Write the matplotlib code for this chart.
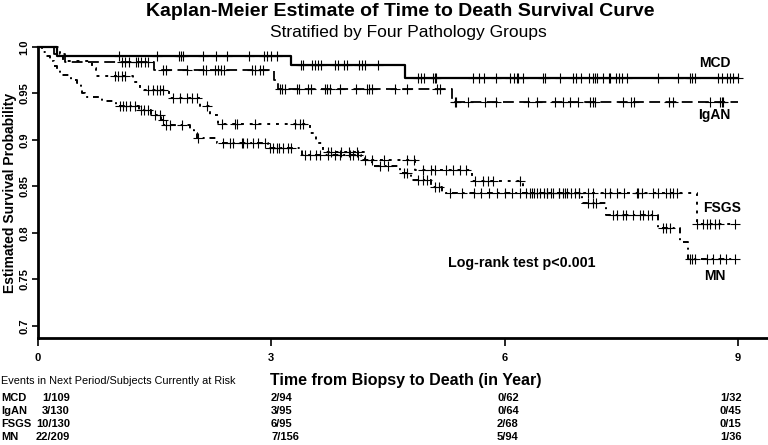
import numpy as np
import matplotlib.pyplot as plt

# Kaplan-Meier steps: event times (years) and survival after each event
mcd_t = [0.25, 3.25, 4.72]
mcd_s = [0.990, 0.981, 0.967]
mcd_cens = [1.04, 1.53, 1.81, 1.84, 1.86, 2.12, 2.29, 2.43, 2.71, 2.91, 2.94, 2.99, 3.07,
            3.38, 3.41, 3.52, 3.56, 3.60, 3.64, 3.82, 3.86, 3.93, 3.97, 4.13, 4.17, 4.21, 4.37,
            4.88, 4.92, 4.96, 5.08, 5.10, 5.12, 5.59, 5.67, 5.73, 5.89, 6.16, 6.07, 6.12, 6.17,
            6.23, 6.49, 6.52, 6.71, 6.88, 6.92, 6.98, 7.09, 7.13, 7.16, 7.19, 7.26, 7.34, 7.36,
            7.43, 7.47, 7.51, 7.57, 7.97, 8.23, 8.38, 8.41, 8.45, 8.74, 8.80, 8.86, 8.90, 8.94, 9.0]

igan_t = [0.20, 0.35, 1.49, 3.03, 3.08, 5.32]
igan_s = [0.992, 0.984, 0.975, 0.964, 0.955, 0.941]
igan_cens = [1.08, 1.12, 1.17, 1.26, 1.29, 1.33, 1.37, 1.41, 1.61, 1.65, 1.92, 2.12, 2.16,
             2.27, 2.31, 2.35, 2.39, 2.75, 2.79, 2.85, 2.89, 3.11, 3.14, 3.17, 3.33, 3.36,
             3.47, 3.51, 3.69, 3.72, 3.75, 3.88, 4.09, 4.23, 4.26, 4.29, 4.59, 4.75, 5.13, 5.17,
             5.36, 5.38, 5.53, 5.75, 5.89, 6.30, 6.41, 6.65, 6.75, 6.84, 6.94, 7.10, 7.13, 7.16,
             7.52, 7.63, 7.66, 8.11, 8.16, 8.64, 8.77, 8.79, 8.81]

fsgs_t = [0.28, 0.32, 0.70, 0.75, 1.22, 1.31, 1.69, 2.08, 2.21, 2.31,
          3.50, 3.57, 3.67, 4.20, 4.85, 5.58, 6.23, 8.47]
fsgs_s = [0.992, 0.985, 0.977, 0.969, 0.962, 0.954, 0.945, 0.937, 0.927, 0.917,
          0.907, 0.897, 0.887, 0.878, 0.868, 0.856, 0.843, 0.810]
fsgs_cens = [0.99, 1.03, 1.08, 1.12, 1.42, 1.48, 1.53, 1.57, 1.61, 1.74, 1.83, 1.92, 1.98,
             2.04, 2.17, 2.36, 2.53, 2.56, 2.79, 3.30, 3.37, 3.41, 3.73, 3.77, 3.90, 4.00,
             4.10, 4.30, 4.45, 4.75, 4.83, 4.95, 5.05, 5.10, 5.25, 5.33, 5.42, 5.50, 5.62,
             5.72, 5.78, 5.85, 6.20, 6.35, 6.45, 6.55, 6.62, 6.70, 6.78, 6.85, 6.95, 7.07,
             7.14, 7.29, 7.35, 7.44, 7.54, 7.70, 7.72, 7.76, 7.91, 7.97, 8.08, 8.12, 8.16,
             8.21, 8.47, 8.55, 8.60, 8.64, 8.70, 8.75, 8.96]

mn_t = [0.05, 0.10, 0.15, 0.20, 0.25, 0.28, 0.42, 0.50, 0.55, 0.57, 0.60, 0.82, 1.00,
        1.30, 1.45, 1.58, 1.62, 1.95, 2.00, 2.05, 2.30, 2.96,
        3.40, 4.15, 4.30, 4.65, 4.80, 5.05, 5.20,
        7.00, 7.30, 7.97, 8.25, 8.36]
mn_s = [0.995, 0.990, 0.985, 0.980, 0.975, 0.970, 0.965, 0.961, 0.956, 0.951, 0.946, 0.942,
        0.937, 0.932, 0.927, 0.922, 0.916, 0.911, 0.907, 0.902, 0.897, 0.891,
        0.884, 0.878, 0.872, 0.865, 0.857, 0.849, 0.843,
        0.832, 0.819, 0.805, 0.790, 0.772]
mn_cens = [1.05, 1.09, 1.13, 1.18, 1.25, 1.32, 1.36, 1.41, 1.50, 1.57, 1.61, 1.65, 1.70,
           1.85, 2.06, 2.38, 2.47, 2.51, 2.62, 2.64, 2.69, 2.76, 2.83, 2.92, 2.98, 3.02,
           3.07, 3.10, 3.15, 3.22, 3.25, 3.43, 3.50, 3.58, 3.62, 3.73, 3.82, 3.88, 4.01,
           4.05, 4.11, 4.20, 4.40, 4.50, 4.70, 4.75, 4.88, 4.95, 5.00, 5.10, 5.15, 5.30,
           5.45, 5.60, 5.70, 5.80, 5.90, 6.00, 6.10, 6.20, 6.28, 6.32, 6.38, 6.42, 6.50,
           6.55, 6.60, 6.70, 6.75, 6.80, 6.90, 6.95, 7.07, 7.14, 7.18, 7.39, 7.45, 7.52,
           7.56, 7.65, 7.74, 7.78, 7.84, 7.90, 8.04, 8.08, 8.12, 8.38, 8.41, 8.45, 8.60,
           8.68, 8.77, 8.85, 8.96]

group_names = ["MCD", "IgAN", "FSGS", "MN"]
risk_0 = ["1/109", "3/130", "10/130", "22/209"]
risk_3 = ["2/94", "3/95", "6/95", "7/156"]
risk_6 = ["0/62", "0/64", "2/68", "5/94"]
risk_9 = ["1/32", "0/45", "0/15", "1/36"]
x_ticks = [0, 3, 6, 9]
y_ticks = [0.7, 0.75, 0.8, 0.85, 0.9, 0.95, 1.0]
y_ticklabels = ["0.7", "0.75", "0.8", "0.85", "0.9", "0.95", "1.0"]

plt.rcParams['font.family'] = ['Liberation Sans', 'DejaVu Sans']

fig = plt.figure(figsize=(7.68, 4.45), dpi=100)
ax = fig.add_axes([38 / 768, 1 - 338 / 445, 1 - 38 / 768, (338 - 47) / 445])


def km_curve(ax, t, s, cens, t_end, ls, lw):
    xs = np.concatenate([[0], t, [t_end]])
    ys = np.concatenate([[1.0], s, [s[-1]]])
    ax.plot(xs, ys, drawstyle="steps-post", color="black", ls=ls, lw=lw, clip_on=False)
    t = np.asarray(t)
    s = np.asarray(s)
    cy = []
    for c in cens:
        k = np.searchsorted(t, c, side="right")
        cy.append(1.0 if k == 0 else s[k - 1])
    ax.plot(cens, cy, ls="none", marker="+", ms=7, mew=0.8, color="black", clip_on=False)


km_curve(ax, mcd_t, mcd_s, mcd_cens, 9.0, "-", 1.6)
km_curve(ax, igan_t, igan_s, igan_cens, 9.0, (0, (6, 3)), 1.3)
km_curve(ax, fsgs_t, fsgs_s, fsgs_cens, 8.96, (0, (1.5, 3)), 1.4)
km_curve(ax, mn_t, mn_s, mn_cens, 8.96, (0, (3, 2.5, 1, 2.5)), 1.4)

ax.set_xlim(0, 9.386)
ax.set_ylim(0.687, 1.0)
for sp in ["top", "right"]:
    ax.spines[sp].set_visible(False)
for sp in ["left", "bottom"]:
    ax.spines[sp].set_linewidth(2)

ax.set_xticks(x_ticks)
ax.set_xticklabels([str(v) for v in x_ticks], fontsize=8, fontweight="bold")
ax.set_yticks(y_ticks)
ax.set_yticklabels(y_ticklabels, fontsize=8, fontweight="bold", rotation=90, va="center")
ax.tick_params(axis="x", length=6, width=1.2, pad=5)
ax.tick_params(axis="y", length=4, width=1.2, pad=2)
ax.set_ylabel("Estimated Survival Probability", fontsize=10, fontweight="bold", labelpad=2)

# curve labels
ax.text(8.7, 0.983, "MCD", fontsize=10, fontweight="bold", ha="center", va="center")
ax.text(8.7, 0.927, "IgAN", fontsize=10, fontweight="bold", ha="center", va="center")
ax.text(8.8, 0.827, "FSGS", fontsize=10, fontweight="bold", ha="center", va="center")
ax.text(8.7, 0.754, "MN", fontsize=10, fontweight="bold", ha="center", va="center")
ax.text(5.27, 0.768, "Log-rank test p<0.001", fontsize=10.3, fontweight="bold", ha="left", va="center")

fig.text(400 / 768, 1 - 12 / 445, "Kaplan-Meier Estimate of Time to Death Survival Curve",
         fontsize=14, fontweight="bold", ha="center", va="center")
fig.text(408 / 768, 1 - 32 / 445, "Stratified by Four Pathology Groups",
         fontsize=12.5, ha="center", va="center")
fig.text(406 / 768, 1 - 381 / 445, "Time from Biopsy to Death (in Year)",
         fontsize=11.5, fontweight="bold", ha="center", va="center")
fig.text(1 / 768, 1 - 381 / 445, "Events in Next Period/Subjects Currently at Risk",
         fontsize=7.8, ha="left", va="center")

row_y = [398, 411, 424, 437]
for i, name in enumerate(group_names):
    yy = 1 - row_y[i] / 445
    fig.text(1 / 768, yy, name, fontsize=8, fontweight="bold", ha="left", va="center")
    fig.text(70 / 768, yy, risk_0[i], fontsize=8, fontweight="bold", ha="right", va="center")
    fig.text(271 / 768, yy, risk_3[i], fontsize=8, fontweight="bold", ha="left", va="center")
    fig.text(497 / 768, yy, risk_6[i], fontsize=8, fontweight="bold", ha="left", va="center")
    fig.text(720 / 768, yy, risk_9[i], fontsize=8, fontweight="bold", ha="left", va="center")

plt.savefig("out.png", dpi=100, facecolor="white")
